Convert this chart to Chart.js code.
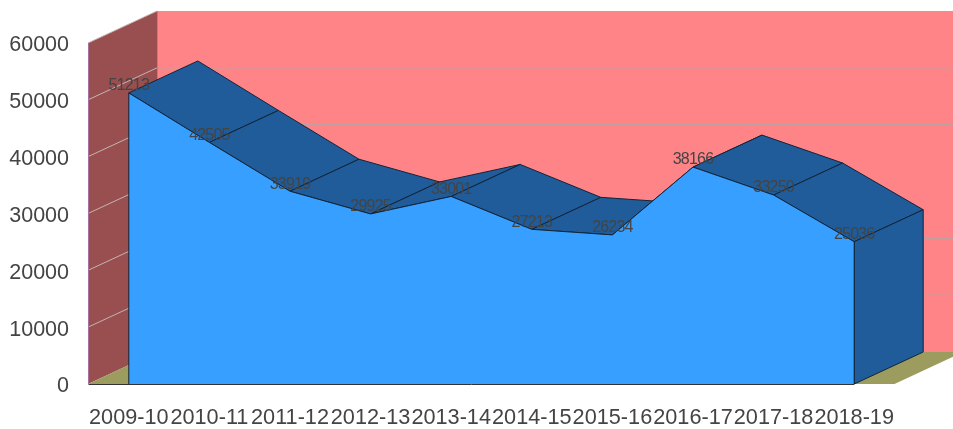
<!DOCTYPE html>
<html>
<head>
<meta charset="utf-8">
<style>html,body{margin:0;padding:0;background:#fff;overflow:hidden}canvas{display:block}</style>
<script src="https://cdn.jsdelivr.net/npm/chart.js@4"></script>
</head>
<body>
<canvas id="c" width="953" height="429"></canvas>
<script>
const categories = ['2009-10','2010-11','2011-12','2012-13','2013-14','2014-15','2015-16','2016-17','2017-18','2018-19'];
const seriesValues = [51213,42505,33919,29925,33001,27213,26234,38166,33250,25036];
const yTicks = [0,10000,20000,30000,40000,50000,60000];

const DEPTH_X = 69, DEPTH_Y = 32;
const TEXT = '#444444', EDGE = '#10253b';

function poly(ctx, pts, fill, stroke, lw) {
  ctx.beginPath();
  pts.forEach((p, i) => i ? ctx.lineTo(p[0], p[1]) : ctx.moveTo(p[0], p[1]));
  ctx.closePath();
  if (fill) { ctx.fillStyle = fill; ctx.fill(); }
  if (stroke) { ctx.strokeStyle = stroke; ctx.lineWidth = lw || 1; ctx.stroke(); }
}
function seg(ctx, x1, y1, x2, y2, color, lw) {
  ctx.beginPath(); ctx.moveTo(x1, y1); ctx.lineTo(x2, y2);
  ctx.strokeStyle = color; ctx.lineWidth = lw || 1; ctx.stroke();
}

const scene3d = {
  id: 'scene3d',
  beforeDatasetsDraw(chart) {
    const { ctx, chartArea: a, scales: { x, y } } = chart;
    const L = Math.floor(a.left), R = a.right, T = a.top, B = a.bottom;
    ctx.save();
    poly(ctx, [[L+DEPTH_X,T-DEPTH_Y],[R+DEPTH_X,T-DEPTH_Y],[R+DEPTH_X,B-DEPTH_Y],[L+DEPTH_X,B-DEPTH_Y]], '#ff8487');
    poly(ctx, [[L,T],[L+DEPTH_X,T-DEPTH_Y],[L+DEPTH_X,B-DEPTH_Y],[L,B]], '#994f4f');
    poly(ctx, [[L,B],[L+DEPTH_X,B-DEPTH_Y],[R+DEPTH_X,B-DEPTH_Y],[R,B]], '#9c9c5e');
    yTicks.forEach(v => {
      const py = y.getPixelForValue(v);
      if (v > 0) seg(ctx, L, py, L+DEPTH_X, py-DEPTH_Y, '#c4b4b4', 1);
      if (v > 0 && v < 60000) seg(ctx, L+DEPTH_X, py-DEPTH_Y, R+DEPTH_X, py-DEPTH_Y, '#b5a5a5', 1);
    });
    seg(ctx, L+.5, T, L+.5, B, '#a8709c', 1);
    seg(ctx, L+DEPTH_X+.5, T-DEPTH_Y, L+DEPTH_X+.5, B-DEPTH_Y, '#b08098', 1);
    for (let i = 0; i < seriesValues.length - 1; i++) {
      const x1 = x.getPixelForValue(i), x2 = x.getPixelForValue(i+1);
      const y1 = y.getPixelForValue(seriesValues[i]), y2 = y.getPixelForValue(seriesValues[i+1]);
      poly(ctx, [[x1,y1],[x2,y2],[x2+DEPTH_X,y2-DEPTH_Y],[x1+DEPTH_X,y1-DEPTH_Y]], '#1f5c99', EDGE, 1);
    }
    const n = seriesValues.length - 1;
    const xe = x.getPixelForValue(n), ye = y.getPixelForValue(seriesValues[n]);
    poly(ctx, [[xe,ye],[xe+DEPTH_X,ye-DEPTH_Y],[xe+DEPTH_X,B-DEPTH_Y],[xe,B]], '#1f5c99', EDGE, 1);
    ctx.restore();
  },
  afterDatasetsDraw(chart) {
    const { ctx, chartArea: a, scales: { x, y } } = chart;
    const n = seriesValues.length - 1;
    const x0 = x.getPixelForValue(0), xe = x.getPixelForValue(n);
    ctx.save();
    seg(ctx, x0, y.getPixelForValue(seriesValues[0]), x0, a.bottom, EDGE, 1);
    seg(ctx, xe, y.getPixelForValue(seriesValues[n]), xe, a.bottom, EDGE, 1);
    seg(ctx, a.left, a.bottom + .5, xe, a.bottom + .5, '#333333', 1);
    ctx.font = '16px "Liberation Sans"';
    ctx.letterSpacing = '-0.8px';
    ctx.fillStyle = TEXT;
    ctx.textAlign = 'center';
    ctx.textBaseline = 'middle';
    seriesValues.forEach((v, i) => {
      ctx.fillText(String(v), x.getPixelForValue(i), y.getPixelForValue(v) - 7);
    });
    ctx.restore();
  }
};

new Chart(document.getElementById('c'), {
  type: 'line',
  data: {
    labels: categories,
    datasets: [{
      data: seriesValues,
      fill: 'origin',
      backgroundColor: '#369fff',
      borderColor: EDGE,
      borderWidth: 1,
      pointRadius: 0,
      tension: 0
    }]
  },
  plugins: [scene3d],
  options: {
    responsive: false,
    animation: false,
    layout: { padding: { top: 43, right: 58.5, left: 0, bottom: 0 } },
    plugins: { legend: { display: false }, title: { display: false }, tooltip: { enabled: false } },
    scales: {
      x: {
        type: 'category',
        offset: true,
        grid: { display: false },
        border: { display: false },
        afterFit(s) { s.height = 45; },
        ticks: { autoSkip: false, maxRotation: 0, minRotation: 0, padding: 13.5, color: TEXT,
                 font: { family: '"Liberation Sans"', size: 21.7 } }
      },
      y: {
        min: 0, max: 60000,
        grid: { display: false },
        border: { display: false },
        afterFit(s) { s.width = 88.5; },
        afterBuildTicks(s) { s.ticks = yTicks.map(v => ({ value: v })); },
        ticks: { padding: 11.5, labelOffset: 2.5, color: TEXT, callback: v => String(v),
                 font: { family: '"Liberation Sans"', size: 21.5 } }
      }
    }
  }
});
</script>
</body>
</html>
